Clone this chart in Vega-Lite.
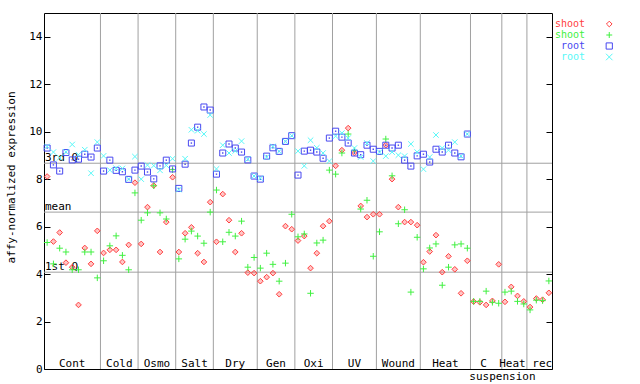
{
  "$schema": "https://vega.github.io/schema/vega-lite/v6.json",
  "width": 508,
  "height": 356,
  "autosize": {"type": "none"},
  "padding": {"left": 44, "top": 13, "right": 88, "bottom": 15},
  "background": "#ffffff",
  "config": {
    "view": {"stroke": "#000000", "strokeWidth": 1},
    "font": "DejaVu Sans Mono",
    "text": {"font": "DejaVu Sans Mono", "fontSize": 11}
  },
  "layer": [
    {
      "layer": [
        {
          "data": {"values": [{"b": 9.5}, {"b": 15.5}, {"b": 21.5}, {"b": 27.5}, {"b": 34.5}, {"b": 40.5}, {"b": 46.5}, {"b": 53.5}, {"b": 60.5}, {"b": 68.5}, {"b": 73.5}, {"b": 77.5}]},
          "mark": {"type": "rule", "color": "#a0a0a0", "strokeWidth": 1},
          "encoding": {
            "x": {"field": "b", "type": "quantitative", "scale": {"domain": [0.5, 81.5], "nice": false, "zero": false}, "axis": null}
          }
        },
        {
          "data": {"values": [{"q": "3rd Q", "v": 8.67}, {"q": "mean", "v": 6.61}, {"q": "1st Q", "v": 4.08}]},
          "layer": [
            {
              "mark": {"type": "rule", "color": "#a0a0a0", "strokeWidth": 1},
              "encoding": {
                "y": {"field": "v", "type": "quantitative", "scale": {"domain": [0, 15], "nice": false, "zero": false}, "axis": null}
              }
            },
            {
              "mark": {"type": "text", "align": "left", "baseline": "alphabetic", "dx": 1, "dy": -2, "color": "#000000", "font": "DejaVu Sans Mono", "fontSize": 11},
              "encoding": {
                "x": {"datum": 0.5, "type": "quantitative", "scale": {"domain": [0.5, 81.5], "nice": false, "zero": false}, "axis": null},
                "y": {"field": "v", "type": "quantitative", "scale": {"domain": [0, 15], "nice": false, "zero": false}, "axis": null},
                "text": {"field": "q"}
              }
            }
          ]
        },
        {
          "data": {"name": "expr", "values": [
            {"i":1,"a":8.11,"b":5.33,"c":9.31,"d":9.38},
            {"i":2,"a":5.37,"b":4.43,"c":8.60,"d":9.14},
            {"i":3,"a":5.75,"b":5.09,"c":8.34,"d":8.90},
            {"i":4,"a":4.48,"b":4.93,"c":9.12,"d":9.15},
            {"i":5,"a":4.29,"b":4.18,"c":8.81,"d":9.46},
            {"i":6,"a":2.70,"b":4.18,"c":8.84,"d":9.03},
            {"i":7,"a":5.10,"b":4.93,"c":9.05,"d":9.24},
            {"i":8,"a":4.43,"b":4.93,"c":8.93,"d":8.25},
            {"i":9,"a":5.82,"b":3.84,"c":9.31,"d":9.56},
            {"i":10,"a":4.89,"b":4.56,"c":8.34,"d":8.98},
            {"i":11,"a":5.02,"b":5.19,"c":8.80,"d":8.38},
            {"i":12,"a":5.02,"b":5.61,"c":8.37,"d":8.46},
            {"i":13,"a":4.51,"b":4.79,"c":8.31,"d":8.45},
            {"i":14,"a":5.23,"b":4.18,"c":7.99,"d":8.00},
            {"i":15,"a":7.85,"b":7.42,"c":8.38,"d":8.95},
            {"i":16,"a":5.27,"b":6.27,"c":8.55,"d":8.00},
            {"i":17,"a":6.82,"b":6.58,"c":8.30,"d":8.59},
            {"i":18,"a":7.73,"b":7.72,"c":8.01,"d":8.57},
            {"i":19,"a":4.93,"b":6.58,"c":8.56,"d":8.37},
            {"i":20,"a":6.19,"b":6.32,"c":8.80,"d":8.58},
            {"i":21,"a":8.08,"b":8.40,"c":8.43,"d":8.86},
            {"i":22,"a":4.93,"b":4.64,"c":7.61,"d":7.56},
            {"i":23,"a":5.72,"b":5.47,"c":8.63,"d":8.86},
            {"i":24,"a":5.97,"b":5.81,"c":9.52,"d":10.08},
            {"i":25,"a":4.88,"b":5.60,"c":10.19,"d":10.04},
            {"i":26,"a":4.51,"b":5.30,"c":11.04,"d":9.90},
            {"i":27,"a":7.03,"b":6.61,"c":10.91,"d":10.70},
            {"i":28,"a":5.36,"b":7.54,"c":8.21,"d":8.43},
            {"i":29,"a":7.37,"b":5.36,"c":9.10,"d":9.43},
            {"i":30,"a":6.27,"b":5.76,"c":9.48,"d":9.10},
            {"i":31,"a":4.93,"b":5.60,"c":9.31,"d":9.19},
            {"i":32,"a":5.72,"b":6.23,"c":9.14,"d":9.60},
            {"i":33,"a":4.06,"b":4.29,"c":8.81,"d":8.84},
            {"i":34,"a":4.04,"b":4.70,"c":8.13,"d":8.13},
            {"i":35,"a":3.70,"b":4.25,"c":8.00,"d":8.04},
            {"i":36,"a":3.87,"b":4.88,"c":8.97,"d":8.93},
            {"i":37,"a":4.04,"b":4.41,"c":9.32,"d":9.38},
            {"i":38,"a":3.15,"b":3.70,"c":9.17,"d":9.17},
            {"i":39,"a":6.02,"b":4.46,"c":9.59,"d":9.59},
            {"i":40,"a":5.89,"b":6.52,"c":9.83,"d":9.83},
            {"i":41,"a":5.41,"b":5.57,"c":8.17,"d":9.18},
            {"i":42,"a":5.60,"b":5.69,"c":9.18,"d":8.56},
            {"i":43,"a":4.25,"b":3.19,"c":9.22,"d":9.64},
            {"i":44,"a":4.88,"b":5.31,"c":9.14,"d":9.32},
            {"i":45,"a":6.02,"b":5.43,"c":8.88,"d":9.10},
            {"i":46,"a":6.23,"b":8.38,"c":9.73,"d":8.76},
            {"i":47,"a":8.56,"b":8.21,"c":10.02,"d":9.81},
            {"i":48,"a":9.22,"b":9.10,"c":9.77,"d":9.94},
            {"i":49,"a":10.15,"b":9.90,"c":9.52,"d":9.73},
            {"i":50,"a":9.10,"b":9.20,"c":9.10,"d":9.31},
            {"i":51,"a":6.87,"b":6.74,"c":9.03,"d":8.93},
            {"i":52,"a":6.40,"b":7.11,"c":9.43,"d":9.52},
            {"i":53,"a":6.52,"b":4.75,"c":9.26,"d":8.76},
            {"i":54,"a":6.52,"b":5.78,"c":9.17,"d":9.14},
            {"i":55,"a":9.43,"b":9.69,"c":9.43,"d":8.97},
            {"i":56,"a":8.00,"b":8.14,"c":9.31,"d":9.14},
            {"i":57,"a":6.82,"b":6.12,"c":9.43,"d":9.01},
            {"i":58,"a":6.19,"b":6.71,"c":8.80,"d":8.97},
            {"i":59,"a":6.19,"b":3.24,"c":8.55,"d":9.48},
            {"i":60,"a":6.06,"b":5.55,"c":8.98,"d":9.14},
            {"i":61,"a":4.50,"b":4.22,"c":9.05,"d":8.42},
            {"i":62,"a":4.95,"b":5.10,"c":8.72,"d":8.93},
            {"i":63,"a":5.64,"b":5.27,"c":9.26,"d":9.86},
            {"i":64,"a":4.08,"b":3.53,"c":9.14,"d":9.31},
            {"i":65,"a":4.75,"b":4.29,"c":9.43,"d":9.22},
            {"i":66,"a":4.20,"b":5.23,"c":9.10,"d":9.56},
            {"i":67,"a":3.19,"b":5.27,"c":8.94,"d":8.97},
            {"i":68,"a":4.56,"b":5.09,"c":9.90,"d":9.90},
            {"i":69,"a":2.84,"b":2.85},
            {"i":70,"a":2.81,"b":2.85},
            {"i":71,"a":2.70,"b":3.28},
            {"i":72,"a":2.87,"b":2.81},
            {"i":73,"a":4.41,"b":2.77},
            {"i":74,"a":2.83,"b":3.24},
            {"i":75,"a":3.46,"b":3.28},
            {"i":76,"a":3.08,"b":2.85},
            {"i":77,"a":2.85,"b":2.74},
            {"i":78,"a":2.61,"b":2.49},
            {"i":79,"a":2.97,"b":2.90},
            {"i":80,"a":2.92,"b":2.88},
            {"i":81,"a":3.21,"b":3.71}
          ]},
          "encoding": {
            "x": {"field": "i", "type": "quantitative", "scale": {"domain": [0.5, 81.5], "nice": false, "zero": false}, "axis": null}
          },
          "layer": [
            {
              "mark": {"type": "point", "shape": "diamond", "size": 32, "filled": false, "stroke": "#ff4040", "fill": "#ff4040", "fillOpacity": 0.3, "strokeWidth": 1, "opacity": 1},
              "encoding": {
                "y": {"field": "a", "type": "quantitative", "scale": {"domain": [0, 15], "nice": false, "zero": false},
                  "axis": {"orient": "left", "values": [0, 2, 4, 6, 8, 10, 12, 14], "grid": false, "domain": false, "ticks": true, "tickSize": -6, "tickColor": "#000000", "tickWidth": 1, "labelPadding": 8, "labelFont": "DejaVu Sans Mono", "labelFontSize": 11, "labelColor": "#000000", "title": "affy-normalized expression", "titleFont": "DejaVu Sans Mono", "titleFontSize": 11, "titleFontWeight": "normal", "titleColor": "#000000", "titleX": -33, "titleY": 164, "titleAngle": -90, "titleAlign": "center", "titleBaseline": "middle"}}
              }
            },
            {
              "mark": {"type": "point", "shape": "M-1,0L1,0M0,-1L0,1", "size": 42, "filled": false, "stroke": "#40f040", "strokeWidth": 1, "opacity": 1},
              "encoding": {
                "y": {"field": "b", "type": "quantitative", "scale": {"domain": [0, 15], "nice": false, "zero": false},
                  "axis": {"orient": "right", "values": [0, 2, 4, 6, 8, 10, 12, 14], "grid": false, "domain": false, "ticks": true, "tickSize": -6, "tickColor": "#000000", "tickWidth": 1, "labels": false, "title": null}}
              }
            },
            {
              "mark": {"type": "point", "shape": "square", "size": 36, "filled": false, "stroke": "#4848f0", "strokeWidth": 1, "opacity": 1},
              "encoding": {
                "y": {"field": "c", "type": "quantitative", "scale": {"domain": [0, 15], "nice": false, "zero": false}, "axis": null}
              }
            },
            {
              "mark": {"type": "point", "shape": "square", "size": 2, "filled": true, "fill": "#4848f0", "opacity": 1},
              "encoding": {
                "y": {"field": "c", "type": "quantitative", "scale": {"domain": [0, 15], "nice": false, "zero": false}, "axis": null}
              }
            },
            {
              "mark": {"type": "point", "shape": "M-1,-1L1,1M-1,1L1,-1", "size": 30, "filled": false, "stroke": "#58f8f8", "strokeWidth": 1, "opacity": 1},
              "encoding": {
                "y": {"field": "d", "type": "quantitative", "scale": {"domain": [0, 15], "nice": false, "zero": false}, "axis": null}
              }
            }
          ]
        },
        {
          "data": {"values": [
            {"t": "Cont", "c": 5},
            {"t": "Cold", "c": 12.5},
            {"t": "Osmo", "c": 18.5},
            {"t": "Salt", "c": 24.5},
            {"t": "Dry", "c": 31},
            {"t": "Gen", "c": 37.5},
            {"t": "Oxi", "c": 43.5},
            {"t": "UV", "c": 50},
            {"t": "Wound", "c": 57},
            {"t": "Heat", "c": 64.5},
            {"t": "C", "c": 70.6},
            {"t": "Heat rec", "c": 77.3}
          ]},
          "mark": {"type": "text", "align": "center", "baseline": "alphabetic", "dy": -2, "color": "#000000", "font": "DejaVu Sans Mono", "fontSize": 11},
          "encoding": {
            "x": {"field": "c", "type": "quantitative", "scale": {"domain": [0.5, 81.5], "nice": false, "zero": false}, "axis": null},
            "y": {"datum": 0, "type": "quantitative", "scale": {"domain": [0, 15], "nice": false, "zero": false}, "axis": null},
            "text": {"field": "t"}
          }
        },
        {
          "data": {"values": [{"t": "suspension", "c": 73.6}]},
          "mark": {"type": "text", "align": "center", "baseline": "alphabetic", "dy": 11, "color": "#000000", "font": "DejaVu Sans Mono", "fontSize": 11},
          "encoding": {
            "x": {"field": "c", "type": "quantitative", "scale": {"domain": [0.5, 81.5], "nice": false, "zero": false}, "axis": null},
            "y": {"datum": 0, "type": "quantitative", "scale": {"domain": [0, 15], "nice": false, "zero": false}, "axis": null},
            "text": {"field": "t"}
          }
        }
      ],
      "resolve": {"axis": {"y": "independent"}}
    },
    {
      "data": {"values": [
        {"label": "shoot", "k": "s1"},
        {"label": "shoot", "k": "s2"},
        {"label": "root", "k": "r1"},
        {"label": "root", "k": "r2"}
      ]},
      "encoding": {
        "y": {"field": "k", "type": "nominal", "scale": {"type": "point", "domain": ["s1", "s2", "r1", "r2"], "range": [11, 44], "padding": 0}, "axis": null},
        "color": {"field": "k", "type": "nominal", "scale": {"domain": ["s1", "s2", "r1", "r2"], "range": ["#ff4040", "#40f040", "#4848f0", "#58f8f8"]}, "legend": null}
      },
      "layer": [
        {
          "mark": {"type": "text", "align": "right", "baseline": "middle", "font": "DejaVu Sans Mono", "fontSize": 10},
          "encoding": {
            "x": {"datum": 86.76, "type": "quantitative", "scale": {"domain": [0.5, 81.5], "nice": false, "zero": false}, "axis": null},
            "text": {"field": "label"}
          }
        },
        {
          "mark": {"type": "point", "filled": false, "strokeWidth": 1, "opacity": 1},
          "encoding": {
            "x": {"datum": 90.63, "type": "quantitative", "scale": {"domain": [0.5, 81.5], "nice": false, "zero": false}, "axis": null},
            "shape": {"field": "k", "type": "nominal", "scale": {"domain": ["s1", "s2", "r1", "r2"], "range": ["diamond", "M-1,0L1,0M0,-1L0,1", "square", "M-1,-1L1,1M-1,1L1,-1"]}, "legend": null},
            "size": {"field": "k", "type": "nominal", "scale": {"domain": ["s1", "s2", "r1", "r2"], "range": [32, 42, 36, 30]}, "legend": null}
          }
        }
      ]
    }
  ],
  "resolve": {"scale": {"y": "independent"}}
}
